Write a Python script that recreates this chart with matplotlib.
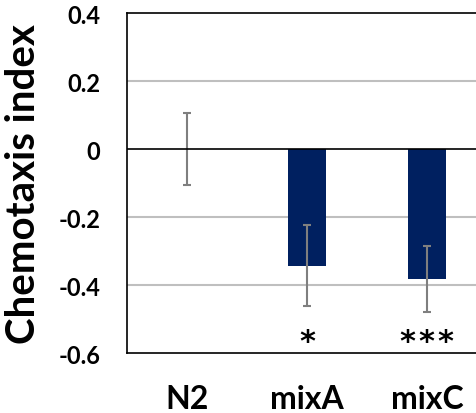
import numpy as np
import matplotlib
matplotlib.use("Agg")
from matplotlib import pyplot as plt

plt.rcParams['font.family'] = ['Lato', 'DejaVu Sans']
plt.rcParams['font.weight'] = 'bold'

# data
strains = ["N2", "mixA", "mixC"]
chemotaxis = [0.0, -0.343, -0.383]
sem = [0.105, 0.119, 0.097]
stars = ["", "*", "*\u200a*\u200a*"]

fig = plt.figure(figsize=(4.77, 4.14), dpi=100)
# axes runs off the right side of the picture, like the cropped original
ax = fig.add_axes([127 / 477, 60 / 414, 360 / 477, 340 / 414])

x = np.arange(len(strains))
ax.bar(x, chemotaxis, width=0.32, color="#002060", zorder=3)
ax.errorbar(x, chemotaxis, yerr=sem, fmt="none", ecolor="#7f7f7f",
            elinewidth=1.5, capsize=3, capthick=1.5, zorder=4)

for xi, s in zip(x, stars):
    ax.text(xi, -0.59, s, ha="center", va="baseline", fontsize=22,
            fontweight="bold", color="black", family="DejaVu Sans")

ax.set_xlim(-0.5, 2.5)
ax.set_ylim(-0.6, 0.4)
ax.set_yticks([0.4, 0.2, 0, -0.2, -0.4, -0.6])
ax.set_yticklabels(["0.4", "0.2", "0", "-0.2", "-0.4", "-0.6"], fontsize=17, fontweight="bold")
ax.set_xticks(x)
ax.set_xticklabels(strains, fontsize=23, fontweight="bold")
ax.tick_params(axis="y", length=0, pad=19)
ax.tick_params(axis="x", length=0, pad=22)

for yv in [0.2, -0.2, -0.4]:
    ax.axhline(yv, color="#bfbfbf", lw=1.5, zorder=1)
ax.axhline(0, color="black", lw=1.2, zorder=5)

for sp in ax.spines.values():
    sp.set_color("black")
    sp.set_linewidth(1.2)

ax.set_ylabel("Chemotaxis index", fontsize=29, fontweight="bold", labelpad=12)

fig.savefig("out.png", dpi=100)
